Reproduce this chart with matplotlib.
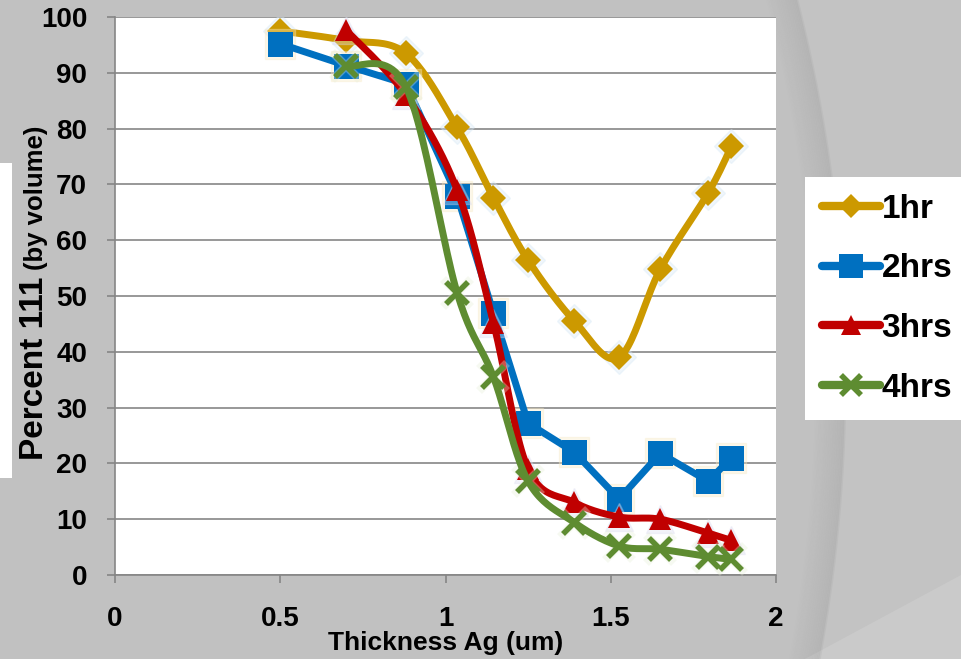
import numpy as np
import matplotlib
matplotlib.use("Agg")
from matplotlib import pyplot as plt
from matplotlib.lines import Line2D

plt.rcParams["font.family"] = ["Liberation Sans", "DejaVu Sans"]
plt.rcParams["font.weight"] = "bold"

THICKNESS = [0.5, 0.7, 0.88, 1.035, 1.145, 1.25, 1.39, 1.525, 1.65, 1.795, 1.865]

HR1 = [97.5, 95.8, 93.5, 80.2, 67.6, 56.4, 45.5, 39.0, 54.8, 68.5, 76.8]
HR2 = [95.2, 91.3, 88.0, 68.0, 47.0, 27.2, 22.0, 13.6, 21.8, 16.8, 21.0]
HR3 = [97.6, 86.0, 69.0, 45.2, 19.0, 13.0, 10.4, 10.0, 7.5, 6.2]
HR4 = [91.2, 87.5, 50.6, 35.5, 16.8, 9.4, 5.2, 4.6, 3.3, 2.8]

LABELS = ["1hr", "2hrs", "3hrs", "4hrs"]
COLORS = ["#CC9900", "#0070C0", "#C00000", "#5E8C31"]
GLOWS = ["#d6e8f5", "#f7e9c4", "#dcdcf0", "#e8eed8"]
MARKERS = ["D", "s", "^", "x"]
MSIZES = [13, 18, 16, 16]
SMOOTH = [True, False, True, True]


def catmull(xs, ys, n=24):
    # Excel-style smoothed line: bezier segments with catmull-rom controls
    p = np.column_stack([xs, ys]).astype(float)
    p = np.vstack([p[0], p, p[-1]])
    out = []
    t = np.linspace(0, 1, n)[:, None]
    for i in range(1, len(p) - 2):
        p0, p1, p2, p3 = p[i - 1], p[i], p[i + 1], p[i + 2]
        c1 = p1 + (p2 - p0) / 6.0
        c2 = p2 - (p3 - p1) / 6.0
        seg = ((1 - t) ** 3) * p1 + 3 * ((1 - t) ** 2) * t * c1 + 3 * (1 - t) * t ** 2 * c2 + t ** 3 * p2
        out.append(seg if i == 1 else seg[1:])
    s = np.vstack(out)
    return s[:, 0], s[:, 1]


W, H = 961, 659
fig = plt.figure(figsize=(W / 100, H / 100), dpi=100, facecolor="#c1c1c1")

# slide background decoration
bg = fig.add_axes([0, 0, 1, 1], zorder=-10)
bg.set_xlim(0, W)
bg.set_ylim(H, 0)
bg.axis("off")
bg.add_patch(plt.Rectangle((0, 163), 12, 315, color="white", lw=0))
cx, cy, R = -683, 380, 1528
ang = np.linspace(-0.3, 0.3, 200)
ax_arc = cx + R * np.cos(ang)
ay_arc = cy + R * np.sin(ang)
bg.fill(np.r_[ax_arc, W, W], np.r_[ay_arc, H, 0], color="#c3c3c3", lw=0)
for k in range(20):
    r = R - k * 1.5
    bg.plot(cx + r * np.cos(ang), cy + r * np.sin(ang), color="#8a8a8a",
            alpha=0.12 * (1 - k / 20), lw=2)
bg.fill([805, W, W], [H, 575, H], color="#cacaca", lw=0)

ax = fig.add_axes([115 / W, 1 - 575 / H, 661 / W, 558 / H])
ax.set_facecolor("white")

series = [(THICKNESS, HR1), (THICKNESS, HR2), (THICKNESS[1:], HR3), (THICKNESS[1:], HR4)]
handles = []
for i, (xs, ys) in enumerate(series):
    if SMOOTH[i]:
        lx, ly = catmull(xs, ys)
    else:
        lx, ly = xs, ys
    z = 3 + i * 3
    ax.plot(lx, ly, color=COLORS[i], lw=5, solid_capstyle="round", zorder=z)
    ax.plot(xs, ys, ls="none", marker=MARKERS[i], ms=MSIZES[i] + 4,
            color=GLOWS[i], mec=GLOWS[i], mew=6 if MARKERS[i] == "x" else 1,
            alpha=0.35, zorder=z - 1)
    ax.plot(xs, ys, ls="none", marker=MARKERS[i], ms=MSIZES[i], color=COLORS[i],
            mec=COLORS[i], mew=4 if MARKERS[i] == "x" else 0, zorder=z + 1)
    handles.append(Line2D([], [], color=COLORS[i], lw=6, solid_capstyle="round",
                          marker=MARKERS[i], ms=MSIZES[i] - 1, mec=COLORS[i],
                          mew=4 if MARKERS[i] == "x" else 0))

ax.set_xlim(0, 2)
ax.set_ylim(0, 100)
ax.set_xticks([0, 0.5, 1, 1.5, 2])
ax.set_xticklabels(["0", "0.5", "1", "1.5", "2"])
ax.set_yticks(range(0, 101, 10))
ax.yaxis.grid(True, color="#868686", lw=1.2)
ax.set_axisbelow(True)
for s in ["top", "right"]:
    ax.spines[s].set_visible(False)
for s in ["left", "bottom"]:
    ax.spines[s].set_color("#868686")
    ax.spines[s].set_linewidth(1.2)
ax.tick_params(axis="both", colors="#868686", length=6, width=1.2, labelcolor="black",
               labelsize=20)
ax.tick_params(axis="y", pad=14)
ax.tick_params(axis="x", pad=16)

fig.text(446 / W, 1 - 650 / H, "Thickness Ag (um)", ha="center", va="baseline",
         fontsize=19, fontweight="bold")

t1 = fig.text(43 / W, 1 - 460 / H, "Percent 111", rotation=90, rotation_mode="anchor",
              ha="left", va="baseline", fontsize=24, fontweight="bold")
renderer = fig.canvas.get_renderer()
bb = t1.get_window_extent(renderer)
fig.text(43 / W, (bb.y1 + 7) / H, "(by volume)", rotation=90, rotation_mode="anchor",
         ha="left", va="baseline", fontsize=18.5, fontweight="bold")

leg = fig.legend(handles, LABELS, loc="upper left", bbox_to_anchor=(805 / W, 1 - 177 / H),
                 fontsize=24, frameon=True, fancybox=False, borderpad=0.5,
                 handlelength=1.75, handletextpad=0.05, labelspacing=0.86,
                 borderaxespad=0)
leg.get_frame().set_facecolor("white")
leg.get_frame().set_edgecolor("none")
leg.get_frame().set_alpha(1)
for txt in leg.get_texts():
    txt.set_fontweight("bold")

fig.savefig("out.png", dpi=100, facecolor=fig.get_facecolor())
